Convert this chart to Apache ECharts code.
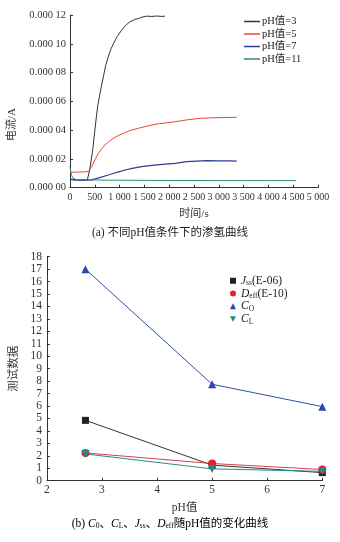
<!DOCTYPE html>
<html><head><meta charset="utf-8">
<script src="https://cdn.jsdelivr.net/npm/echarts@6/dist/echarts.min.js"></script>
<style>html,body{margin:0;padding:0;background:#fff}#c{width:340px;height:542px}</style>
</head><body><div id="c"></div>
<script>
// ---- chart (a): hydrogen permeation current (µA values, converted to A) ----
const t3 = [0,100,200,300,349,400,457,524,560,605,672,720,773,820,874,950,1042,1120,1210,1300,1378,1450,1550,1650,1750,1850,1915];
const v3 = [5.6,5.4,5.3,5.3,5.3,13,26,47,57,65.6,77,85,91,96,100,105,109.5,112.8,115.3,116.8,117.6,118.5,119.2,119,119.3,119,119.2];
const t5 = [0,100,200,300,369,437,504,571,640,706,790,874,970,1075,1200,1378,1613,1800,2117,2350,2621,2900,3150,3360];
const v5 = [10.7,10.8,10.9,11.0,11.3,14.6,19.5,23.9,27.0,29.7,32.2,34.3,36.2,37.8,39.6,41.3,43.3,44.5,45.8,47.1,48.2,48.6,48.8,48.9];
const t7 = [0,20,100,200,300,437,600,773,950,1109,1280,1445,1613,1800,2117,2352,2556,2756,3000,3200,3360];
const v7 = [6.2,5.6,5.4,5.3,5.3,5.4,7.0,8.8,10.7,12.3,13.6,14.6,15.4,16.1,16.9,18.1,18.5,18.8,18.7,18.6,18.5];
const t11 = [0,15,30,50,80,120,300,600,1000,1500,2000,2500,3000,3500,4000,4560];
const v11 = [15,11,9,7,6,5.7,5.5,5.3,5.2,5.1,5.0,5.0,4.9,4.9,4.9,4.9];
const seriesA = ['pH值=3','pH值=5','pH值=7','pH值=11'];
const timeTicks = [0,500,1000,1500,2000,2500,3000,3500,4000,4500,5000];
const currentTicks = [0,0.00002,0.00004,0.00006,0.00008,0.0001,0.00012];

// ---- chart (b): parameters vs pH ----
const pH = [2.7, 5, 7];
const jss = [4.85, 1.25, 0.65];
const deff = [2.23, 1.38, 0.9];
const c0 = [17, 7.75, 5.95];
const cl = [2.15, 0.95, 0.75];

const SERIF = '"Liberation Serif","Times New Roman","Noto Sans CJK SC",serif';
const AX = '#333';
const pair = (t, v) => t.map((x, i) => [x, v[i] * 1e-6]);
const xy = (v) => pH.map((x, i) => [x, v[i]]);

const chart = echarts.init(document.getElementById('c'), null, {renderer: 'canvas'});
const axisCommon = {
  axisLine: {show: true, lineStyle: {color: AX, width: 1}},
  axisTick: {show: true, inside: true, length: 3, lineStyle: {color: AX}},
  splitLine: {show: false},
  axisLabel: {color: AX, fontFamily: SERIF}
};
const sub = {
  i: {fontFamily: SERIF, fontStyle: 'italic', fontSize: 11.5, color: '#222', lineHeight: 13},
  s: {fontFamily: SERIF, fontSize: 7.5, color: '#222', lineHeight: 7, verticalAlign: 'bottom'},
  n: {fontFamily: SERIF, fontSize: 11.5, color: '#222', lineHeight: 13},
  c: {fontFamily: SERIF, fontSize: 11.5, color: '#222', lineHeight: 13}
};
const legendLabel = {
  'Jss': '{i|J}{s|ss}{n|(E-06)}',
  'Deff': '{i|D}{s|eff}{n|(E-10)}',
  'C0': '{i|C}{s|O}',
  'CL': '{i|C}{s|L}'
};

chart.setOption({
  animation: false,
  backgroundColor: '#fff',
  grid: [
    {left: 70, top: 15, width: 248, height: 172.7, containLabel: false},
    {left: 46.7, top: 256.7, width: 275.6, height: 224, containLabel: false}
  ],
  legend: [
    {
      orient: 'vertical', left: 239, top: 10.5,
      itemWidth: 16, itemHeight: 1.5, itemGap: 0.5,
      icon: 'rect',
      data: seriesA,
      textStyle: {fontFamily: SERIF, fontSize: 10.5, color: '#222', padding: [0, 0, 0, -3], lineHeight: 12}
    },
    {
      orient: 'vertical', left: 225, top: 270,
      itemWidth: 6, itemHeight: 6, itemGap: 0.5,
      data: [
        {name: 'Jss', icon: 'rect'},
        {name: 'Deff', icon: 'circle'},
        {name: 'C0', icon: 'triangle'},
        {name: 'CL', icon: 'path://M0,0 L10,0 L5,9 Z'}
      ],
      formatter: n => legendLabel[n],
      textStyle: {rich: sub, padding: [0, 0, 0, 0]}
    }
  ],
  xAxis: [
    Object.assign({}, axisCommon, {
      gridIndex: 0, type: 'value', min: timeTicks[0], max: timeTicks[timeTicks.length - 1], interval: 500,
      name: '时间/s', nameLocation: 'middle', nameGap: 21,
      nameTextStyle: {fontFamily: SERIF, fontSize: 11, color: '#333'},
      axisLabel: {color: AX, fontFamily: SERIF, fontSize: 10, margin: 5, interval: 0, hideOverlap: false,
        formatter: v => v >= 1000 ? String(v).replace(/(\d)(\d{3})$/, '$1 $2') : String(v)}
    }),
    Object.assign({}, axisCommon, {
      gridIndex: 1, type: 'value', min: 2, max: 7, interval: 1,
      name: 'pH值', nameLocation: 'middle', nameGap: 22,
      nameTextStyle: {fontFamily: SERIF, fontSize: 11.5, color: '#333'},
      axisLabel: {color: AX, fontFamily: SERIF, fontSize: 11.5, margin: 4}
    })
  ],
  yAxis: [
    Object.assign({}, axisCommon, {
      gridIndex: 0, type: 'value', min: currentTicks[0], max: currentTicks[currentTicks.length - 1], interval: 0.00002,
      axisLabel: {color: AX, fontFamily: SERIF, fontSize: 10.5, margin: 4,
        formatter: v => { const s = v.toFixed(5); return s.slice(0, 5) + ' ' + s.slice(5); }}
    }),
    Object.assign({}, axisCommon, {
      gridIndex: 1, type: 'value', min: 0, max: 18, interval: 1,
      name: '测试数据', nameLocation: 'middle', nameGap: 24,
      nameTextStyle: {fontFamily: SERIF, fontSize: 11.5, color: '#333'},
      axisLabel: {color: AX, fontFamily: SERIF, fontSize: 11.5, margin: 5}
    })
  ],
  graphic: [
    {type: 'text', left: 7, top: 108, rotation: Math.PI / 2,
      style: {text: '电流/A', fontFamily: SERIF, fontSize: 11, fill: '#333'}},
    {type: 'text', left: 'center', top: 227,
      style: {text: '(a) 不同pH值条件下的渗氢曲线', fontFamily: SERIF, fontSize: 11.5, fill: '#222'}},
    {type: 'text', left: 'center', top: 518,
      style: {
        text: '{c|(b) }{i|C}{s|0}{c|、}{i|C}{s|L}{c|、}{i|J}{s|ss}{c|、}{i|D}{s|eff}{c|随pH值的变化曲线}',
        rich: sub
      }}
  ],
  series: [
    {name: seriesA[0], type: 'line', xAxisIndex: 0, yAxisIndex: 0, data: pair(t3, v3), symbol: 'none', lineStyle: {width: 1, color: '#333'}, itemStyle: {color: '#333'}},
    {name: seriesA[1], type: 'line', xAxisIndex: 0, yAxisIndex: 0, data: pair(t5, v5), symbol: 'none', lineStyle: {width: 1, color: '#e8473a'}, itemStyle: {color: '#e8473a'}},
    {name: seriesA[2], type: 'line', xAxisIndex: 0, yAxisIndex: 0, data: pair(t7, v7), symbol: 'none', lineStyle: {width: 1.2, color: '#2c3a94'}, itemStyle: {color: '#2c3a94'}},
    {name: seriesA[3], type: 'line', xAxisIndex: 0, yAxisIndex: 0, data: pair(t11, v11), symbol: 'none', lineStyle: {width: 1, color: '#2a8a78'}, itemStyle: {color: '#2a8a78'}},
    {name: 'Jss', type: 'line', xAxisIndex: 1, yAxisIndex: 1, data: xy(jss), symbol: 'rect', symbolSize: 7, lineStyle: {width: 1, color: '#333'}, itemStyle: {color: '#222'}},
    {name: 'Deff', type: 'line', xAxisIndex: 1, yAxisIndex: 1, data: xy(deff), symbol: 'circle', symbolSize: 8, lineStyle: {width: 1, color: '#d8404a'}, itemStyle: {color: '#e8202a'}},
    {name: 'C0', type: 'line', xAxisIndex: 1, yAxisIndex: 1, data: xy(c0), symbol: 'triangle', symbolSize: 8, lineStyle: {width: 1, color: '#3050a8'}, itemStyle: {color: '#2a4aa8'}},
    {name: 'CL', type: 'line', xAxisIndex: 1, yAxisIndex: 1, data: xy(cl), symbol: 'triangle', symbolRotate: 180, symbolSize: 8, lineStyle: {width: 1, color: '#2a8a8a'}, itemStyle: {color: '#1f8a8a'}}
  ]
});
</script></body></html>
